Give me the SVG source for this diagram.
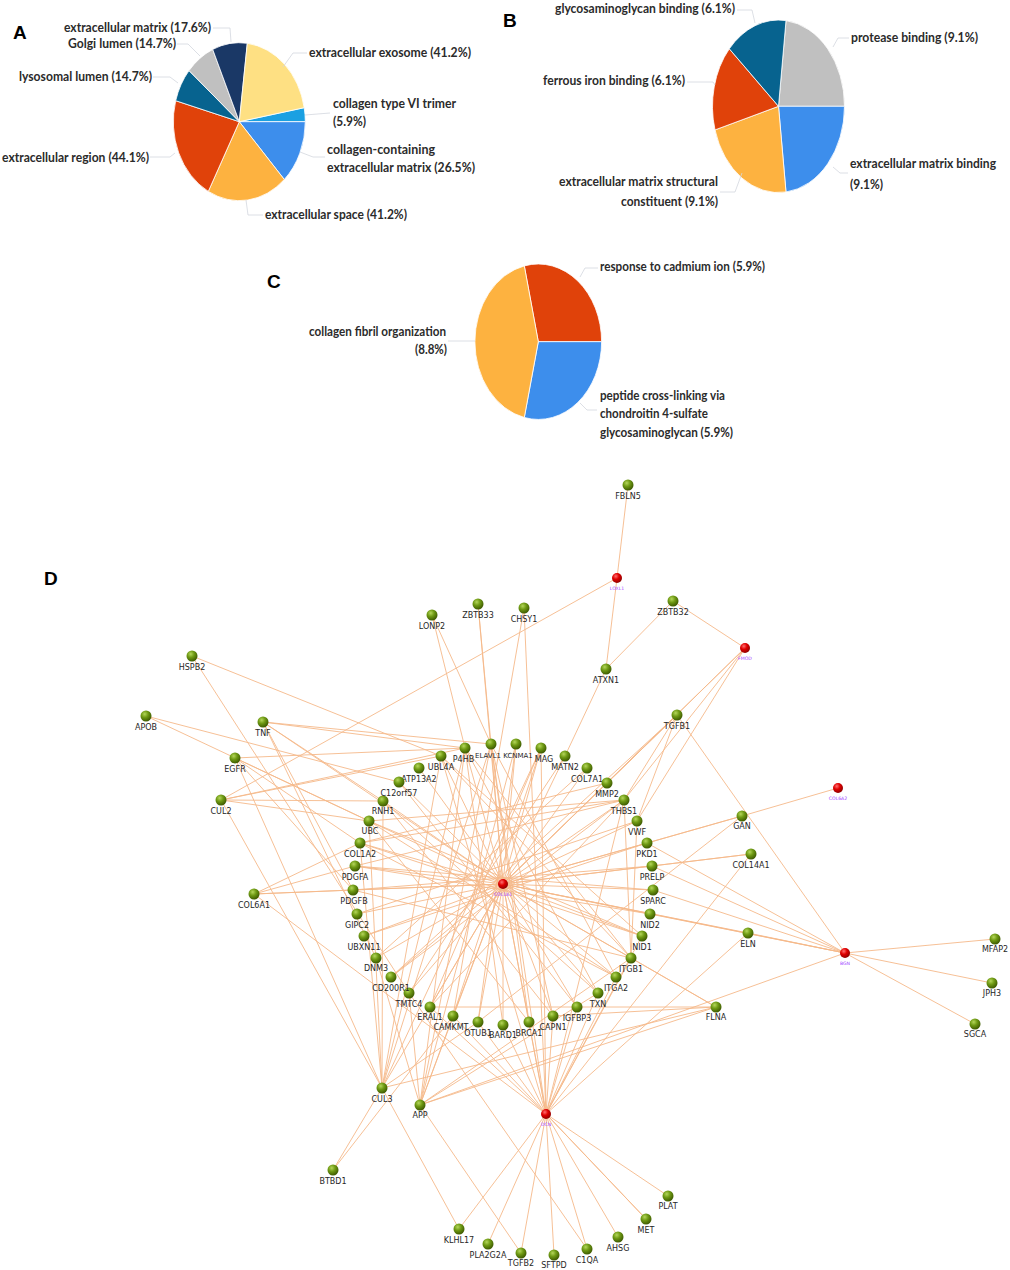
<svg xmlns="http://www.w3.org/2000/svg" width="1010" height="1270" viewBox="0 0 1010 1270">
<defs>
<radialGradient id="gg" cx="38%" cy="32%" r="70%">
<stop offset="0%" stop-color="#b4d65a"/>
<stop offset="45%" stop-color="#6f9a14"/>
<stop offset="100%" stop-color="#3c5800"/>
</radialGradient>
<radialGradient id="rg" cx="38%" cy="32%" r="70%">
<stop offset="0%" stop-color="#ff7070"/>
<stop offset="45%" stop-color="#e00000"/>
<stop offset="100%" stop-color="#8c0000"/>
</radialGradient>
<style>
.pl{font-family:Lato,"Open Sans","Liberation Sans",sans-serif;font-weight:700;font-size:13.5px;fill:#2b2b2b}
.pn{font-family:"Liberation Sans",Arial,sans-serif;font-weight:700;font-size:19px;fill:#000}
.ld{fill:none;stroke:#d3d7de;stroke-width:0.8}
.sl{stroke:#fff;stroke-width:0.8}
.g circle{fill:url(#gg)}
.r circle{fill:url(#rg)}
.g text{font-family:"DejaVu Sans",Verdana,sans-serif;font-size:8px;fill:#262626;text-anchor:middle}
.g text.s7{font-size:7px}
.r text{font-family:"DejaVu Sans",Verdana,sans-serif;font-size:4.6px;fill:#a040ff;text-anchor:middle}
#edges line{stroke:#f5b98a;stroke-width:0.9}
</style>
</defs>
<rect width="1010" height="1270" fill="#fff"/>

<!-- Panel A -->
<g id="pieA">
<path class="sl" fill="#1aa0e2" d="M239.3,121.7 L304.2,107.7 A66,79 0 0 1 305.3,121.7 Z"/>
<path class="sl" fill="#3d8eec" d="M239.3,121.7 L305.3,121.7 A66,79 0 0 1 284.3,179.5 Z"/>
<path class="sl" fill="#fdb240" d="M239.3,121.7 L284.3,179.5 A66,79 0 0 1 208.3,191.4 Z"/>
<path class="sl" fill="#e0420a" d="M239.3,121.7 L208.3,191.4 A66,79 0 0 1 175.7,100.7 Z"/>
<path class="sl" fill="#07638f" d="M239.3,121.7 L175.7,100.7 A66,79 0 0 1 189,70.6 Z"/>
<path class="sl" fill="#c0c0c0" d="M239.3,121.7 L189,70.6 A66,79 0 0 1 212.7,49.4 Z"/>
<path class="sl" fill="#1a3866" d="M239.3,121.7 L212.7,49.4 A66,79 0 0 1 247.3,43.3 Z"/>
<path class="sl" fill="#fee083" d="M239.3,121.7 L247.3,43.3 A66,79 0 0 1 304.2,107.7 Z"/>
</g>
<g id="leadersA">
<polyline class="ld" points="213,28 230,28 231,42"/>
<polyline class="ld" points="177,44 188,44 200,56"/>
<polyline class="ld" points="153,77 170,77 178,83"/>
<polyline class="ld" points="307,53 293,53 283,67"/>
<polyline class="ld" points="330,113 305,115"/>
<polyline class="ld" points="325,157 313,157 300,152"/>
<polyline class="ld" points="150,157 170,157 175,153"/>
<polyline class="ld" points="263,215 248,215 246,200"/>
</g>
<text class="pn" x="13" y="39">A</text>
<text class="pl" x="64" y="31.5" textLength="147" lengthAdjust="spacingAndGlyphs">extracellular matrix (17.6%)</text>
<text class="pl" x="68" y="48.3" textLength="108" lengthAdjust="spacingAndGlyphs">Golgi lumen (14.7%)</text>
<text class="pl" x="19" y="80.7" textLength="133" lengthAdjust="spacingAndGlyphs">lysosomal lumen (14.7%)</text>
<text class="pl" x="309" y="57.3" textLength="162" lengthAdjust="spacingAndGlyphs">extracellular exosome (41.2%)</text>
<text class="pl" x="333" y="108" textLength="123" lengthAdjust="spacingAndGlyphs">collagen type VI trimer</text>
<text class="pl" x="333" y="126" textLength="33" lengthAdjust="spacingAndGlyphs">(5.9%)</text>
<text class="pl" x="327" y="154" textLength="108" lengthAdjust="spacingAndGlyphs">collagen-containing</text>
<text class="pl" x="327" y="172.3" textLength="148" lengthAdjust="spacingAndGlyphs">extracellular matrix (26.5%)</text>
<text class="pl" x="2" y="162.3" textLength="147" lengthAdjust="spacingAndGlyphs">extracellular region (44.1%)</text>
<text class="pl" x="265" y="219" textLength="142" lengthAdjust="spacingAndGlyphs">extracellular space (41.2%)</text>

<!-- Panel B -->
<g id="pieB">
<path class="sl" fill="#c0c0c0" d="M778.5,106.3 L786,20.6 A66,86.3 0 0 1 844.5,106.3 Z"/>
<path class="sl" fill="#3d8eec" d="M778.5,106.3 L844.5,106.3 A66,86.3 0 0 1 786,192 Z"/>
<path class="sl" fill="#fdb240" d="M778.5,106.3 L786,192 A66,86.3 0 0 1 715,129.9 Z"/>
<path class="sl" fill="#e0420a" d="M778.5,106.3 L715,129.9 A66,86.3 0 0 1 729.3,48.8 Z"/>
<path class="sl" fill="#07638f" d="M778.5,106.3 L729.3,48.8 A66,86.3 0 0 1 786,20.6 Z"/>
</g>
<g id="leadersB">
<polyline class="ld" points="737,10 752,10 755,23"/>
<polyline class="ld" points="849,38 838,38 833,47"/>
<polyline class="ld" points="687,82 713,82 715,85"/>
<polyline class="ld" points="848,173 840,173 833,167"/>
<polyline class="ld" points="720,192 735,192 742,173"/>
</g>
<text class="pn" x="503" y="27">B</text>
<text class="pl" x="555" y="12.5" textLength="180" lengthAdjust="spacingAndGlyphs">glycosaminoglycan binding (6.1%)</text>
<text class="pl" x="851" y="41.7" textLength="127" lengthAdjust="spacingAndGlyphs">protease binding (9.1%)</text>
<text class="pl" x="543" y="85" textLength="142" lengthAdjust="spacingAndGlyphs">ferrous iron binding (6.1%)</text>
<text class="pl" transform="translate(850,167.7) scale(0.8,1)" x="0" y="0" textLength="182.5" lengthAdjust="spacingAndGlyphs">extracellular matrix binding</text>
<text class="pl" x="850" y="189" textLength="33" lengthAdjust="spacingAndGlyphs">(9.1%)</text>
<text class="pl" x="559" y="186" textLength="159" lengthAdjust="spacingAndGlyphs">extracellular matrix structural</text>
<text class="pl" x="621" y="205.7" textLength="97" lengthAdjust="spacingAndGlyphs">constituent (9.1%)</text>

<!-- Panel C -->
<g id="pieC">
<path class="sl" fill="#e0420a" d="M538.3,341.7 L524.3,265.9 A63.3,77.7 0 0 1 601.6,341.7 Z"/>
<path class="sl" fill="#3d8eec" d="M538.3,341.7 L601.6,341.7 A63.3,77.7 0 0 1 524.3,417.5 Z"/>
<path class="sl" fill="#fdb240" d="M538.3,341.7 L524.3,417.5 A63.3,77.7 0 0 1 524.3,265.9 Z"/>
</g>
<g id="leadersC">
<polyline class="ld" points="598,268 585,268 580,277"/>
<polyline class="ld" points="448,341 475,341"/>
<polyline class="ld" points="597,410 587,410 580,403"/>
</g>
<text class="pn" x="267" y="288">C</text>
<text class="pl" x="600" y="271" textLength="165" lengthAdjust="spacingAndGlyphs">response to cadmium ion (5.9%)</text>
<text class="pl" x="309" y="336" textLength="137" lengthAdjust="spacingAndGlyphs">collagen fibril organization</text>
<text class="pl" x="415" y="354.3" textLength="32" lengthAdjust="spacingAndGlyphs">(8.8%)</text>
<text class="pl" x="600" y="400" textLength="125" lengthAdjust="spacingAndGlyphs">peptide cross-linking via</text>
<text class="pl" x="600" y="418.3" textLength="108" lengthAdjust="spacingAndGlyphs">chondroitin 4-sulfate</text>
<text class="pl" x="600" y="436.7" textLength="133" lengthAdjust="spacingAndGlyphs">glycosaminoglycan (5.9%)</text>

<!-- Panel D -->
<text class="pn" x="44" y="585">D</text>
<g id="edges">
<line x1="628" y1="485" x2="617" y2="578"/>
<line x1="617" y1="578" x2="606" y2="669"/>
<line x1="617" y1="578" x2="221" y2="800"/>
<line x1="673" y1="601" x2="606" y2="669"/>
<line x1="673" y1="601" x2="745" y2="648"/>
<line x1="606" y1="669" x2="565" y2="756"/>
<line x1="745" y1="648" x2="607" y2="783"/>
<line x1="745" y1="648" x2="624" y2="800"/>
<line x1="745" y1="648" x2="637" y2="821"/>
<line x1="745" y1="648" x2="503" y2="884"/>
<line x1="432" y1="615" x2="465" y2="748"/>
<line x1="432" y1="615" x2="491" y2="744"/>
<line x1="478" y1="604" x2="491" y2="744"/>
<line x1="478" y1="604" x2="503" y2="884"/>
<line x1="524" y1="608" x2="453" y2="1016"/>
<line x1="524" y1="608" x2="546" y2="1114"/>
<line x1="192" y1="656" x2="441" y2="756"/>
<line x1="192" y1="656" x2="409" y2="993"/>
<line x1="146" y1="716" x2="399" y2="782"/>
<line x1="146" y1="716" x2="369" y2="821"/>
<line x1="263" y1="722" x2="491" y2="744"/>
<line x1="263" y1="722" x2="465" y2="748"/>
<line x1="263" y1="722" x2="383" y2="801"/>
<line x1="263" y1="722" x2="353" y2="890"/>
<line x1="263" y1="722" x2="376" y2="958"/>
<line x1="263" y1="722" x2="503" y2="884"/>
<line x1="235" y1="758" x2="465" y2="748"/>
<line x1="235" y1="758" x2="369" y2="821"/>
<line x1="235" y1="758" x2="353" y2="890"/>
<line x1="235" y1="758" x2="382" y2="1088"/>
<line x1="235" y1="758" x2="360" y2="843"/>
<line x1="221" y1="800" x2="441" y2="756"/>
<line x1="221" y1="800" x2="465" y2="748"/>
<line x1="221" y1="800" x2="369" y2="821"/>
<line x1="221" y1="800" x2="383" y2="801"/>
<line x1="221" y1="800" x2="382" y2="1088"/>
<line x1="254" y1="894" x2="355" y2="866"/>
<line x1="254" y1="894" x2="353" y2="890"/>
<line x1="254" y1="894" x2="503" y2="884"/>
<line x1="254" y1="894" x2="546" y2="1114"/>
<line x1="254" y1="894" x2="360" y2="843"/>
<line x1="503" y1="884" x2="465" y2="748"/>
<line x1="503" y1="884" x2="491" y2="744"/>
<line x1="503" y1="884" x2="516" y2="744"/>
<line x1="503" y1="884" x2="541" y2="748"/>
<line x1="503" y1="884" x2="565" y2="756"/>
<line x1="503" y1="884" x2="587" y2="768"/>
<line x1="503" y1="884" x2="607" y2="783"/>
<line x1="503" y1="884" x2="624" y2="800"/>
<line x1="503" y1="884" x2="637" y2="821"/>
<line x1="503" y1="884" x2="647" y2="843"/>
<line x1="503" y1="884" x2="652" y2="866"/>
<line x1="503" y1="884" x2="653" y2="890"/>
<line x1="503" y1="884" x2="650" y2="914"/>
<line x1="503" y1="884" x2="642" y2="936"/>
<line x1="503" y1="884" x2="631" y2="958"/>
<line x1="503" y1="884" x2="616" y2="977"/>
<line x1="503" y1="884" x2="598" y2="993"/>
<line x1="503" y1="884" x2="577" y2="1007"/>
<line x1="503" y1="884" x2="553" y2="1016"/>
<line x1="503" y1="884" x2="529" y2="1022"/>
<line x1="503" y1="884" x2="503" y2="1025"/>
<line x1="503" y1="884" x2="478" y2="1022"/>
<line x1="503" y1="884" x2="453" y2="1016"/>
<line x1="503" y1="884" x2="430" y2="1007"/>
<line x1="503" y1="884" x2="409" y2="993"/>
<line x1="503" y1="884" x2="391" y2="977"/>
<line x1="503" y1="884" x2="376" y2="958"/>
<line x1="503" y1="884" x2="364" y2="936"/>
<line x1="503" y1="884" x2="357" y2="914"/>
<line x1="503" y1="884" x2="353" y2="890"/>
<line x1="503" y1="884" x2="355" y2="866"/>
<line x1="503" y1="884" x2="360" y2="843"/>
<line x1="503" y1="884" x2="369" y2="821"/>
<line x1="503" y1="884" x2="383" y2="801"/>
<line x1="503" y1="884" x2="399" y2="782"/>
<line x1="503" y1="884" x2="419" y2="768"/>
<line x1="503" y1="884" x2="441" y2="756"/>
<line x1="503" y1="884" x2="677" y2="715"/>
<line x1="503" y1="884" x2="546" y2="1114"/>
<line x1="503" y1="884" x2="845" y2="953"/>
<line x1="503" y1="884" x2="420" y2="1105"/>
<line x1="503" y1="884" x2="382" y2="1088"/>
<line x1="503" y1="884" x2="716" y2="1007"/>
<line x1="503" y1="884" x2="748" y2="933"/>
<line x1="503" y1="884" x2="751" y2="854"/>
<line x1="503" y1="884" x2="742" y2="816"/>
<line x1="546" y1="1114" x2="459" y2="1229"/>
<line x1="546" y1="1114" x2="488" y2="1244"/>
<line x1="546" y1="1114" x2="521" y2="1253"/>
<line x1="546" y1="1114" x2="554" y2="1255"/>
<line x1="546" y1="1114" x2="587" y2="1249"/>
<line x1="546" y1="1114" x2="618" y2="1237"/>
<line x1="546" y1="1114" x2="646" y2="1219"/>
<line x1="546" y1="1114" x2="668" y2="1196"/>
<line x1="546" y1="1114" x2="478" y2="1022"/>
<line x1="546" y1="1114" x2="503" y2="1025"/>
<line x1="546" y1="1114" x2="529" y2="1022"/>
<line x1="546" y1="1114" x2="553" y2="1016"/>
<line x1="546" y1="1114" x2="577" y2="1007"/>
<line x1="546" y1="1114" x2="598" y2="993"/>
<line x1="546" y1="1114" x2="616" y2="977"/>
<line x1="546" y1="1114" x2="631" y2="958"/>
<line x1="546" y1="1114" x2="748" y2="933"/>
<line x1="546" y1="1114" x2="751" y2="854"/>
<line x1="546" y1="1114" x2="430" y2="1007"/>
<line x1="546" y1="1114" x2="541" y2="748"/>
<line x1="546" y1="1114" x2="491" y2="744"/>
<line x1="546" y1="1114" x2="441" y2="756"/>
<line x1="546" y1="1114" x2="624" y2="800"/>
<line x1="546" y1="1114" x2="642" y2="936"/>
<line x1="845" y1="953" x2="995" y2="939"/>
<line x1="845" y1="953" x2="992" y2="983"/>
<line x1="845" y1="953" x2="975" y2="1024"/>
<line x1="845" y1="953" x2="677" y2="715"/>
<line x1="845" y1="953" x2="748" y2="933"/>
<line x1="845" y1="953" x2="650" y2="914"/>
<line x1="845" y1="953" x2="653" y2="890"/>
<line x1="845" y1="953" x2="652" y2="866"/>
<line x1="845" y1="953" x2="647" y2="843"/>
<line x1="845" y1="953" x2="420" y2="1105"/>
<line x1="677" y1="715" x2="624" y2="800"/>
<line x1="677" y1="715" x2="607" y2="783"/>
<line x1="677" y1="715" x2="637" y2="821"/>
<line x1="677" y1="715" x2="391" y2="977"/>
<line x1="838" y1="788" x2="742" y2="816"/>
<line x1="742" y1="816" x2="647" y2="843"/>
<line x1="742" y1="816" x2="478" y2="1022"/>
<line x1="751" y1="854" x2="652" y2="866"/>
<line x1="716" y1="1007" x2="631" y2="958"/>
<line x1="716" y1="1007" x2="553" y2="1016"/>
<line x1="716" y1="1007" x2="382" y2="1088"/>
<line x1="716" y1="1007" x2="420" y2="1105"/>
<line x1="716" y1="1007" x2="430" y2="1007"/>
<line x1="382" y1="1088" x2="333" y2="1170"/>
<line x1="382" y1="1088" x2="459" y2="1229"/>
<line x1="382" y1="1088" x2="369" y2="821"/>
<line x1="382" y1="1088" x2="360" y2="843"/>
<line x1="382" y1="1088" x2="383" y2="801"/>
<line x1="382" y1="1088" x2="441" y2="756"/>
<line x1="382" y1="1088" x2="491" y2="744"/>
<line x1="382" y1="1088" x2="478" y2="1022"/>
<line x1="382" y1="1088" x2="465" y2="748"/>
<line x1="382" y1="1088" x2="541" y2="748"/>
<line x1="420" y1="1105" x2="521" y2="1253"/>
<line x1="420" y1="1105" x2="453" y2="1016"/>
<line x1="420" y1="1105" x2="409" y2="993"/>
<line x1="420" y1="1105" x2="376" y2="958"/>
<line x1="420" y1="1105" x2="491" y2="744"/>
<line x1="420" y1="1105" x2="465" y2="748"/>
<line x1="420" y1="1105" x2="516" y2="744"/>
<line x1="420" y1="1105" x2="631" y2="958"/>
<line x1="420" y1="1105" x2="598" y2="993"/>
<line x1="333" y1="1170" x2="453" y2="1016"/>
<line x1="587" y1="1249" x2="409" y2="993"/>
<line x1="453" y1="1016" x2="646" y2="1219"/>
<line x1="465" y1="748" x2="631" y2="958"/>
<line x1="465" y1="748" x2="598" y2="993"/>
<line x1="491" y1="744" x2="529" y2="1022"/>
<line x1="491" y1="744" x2="616" y2="977"/>
<line x1="491" y1="744" x2="553" y2="1016"/>
<line x1="516" y1="744" x2="478" y2="1022"/>
<line x1="541" y1="748" x2="453" y2="1016"/>
<line x1="541" y1="748" x2="430" y2="1007"/>
<line x1="441" y1="756" x2="631" y2="958"/>
<line x1="441" y1="756" x2="642" y2="936"/>
<line x1="369" y1="821" x2="642" y2="936"/>
<line x1="369" y1="821" x2="624" y2="800"/>
<line x1="369" y1="821" x2="616" y2="977"/>
<line x1="383" y1="801" x2="598" y2="993"/>
<line x1="360" y1="843" x2="616" y2="977"/>
<line x1="360" y1="843" x2="607" y2="783"/>
<line x1="360" y1="843" x2="624" y2="800"/>
<line x1="353" y1="890" x2="631" y2="958"/>
<line x1="353" y1="890" x2="652" y2="866"/>
<line x1="355" y1="866" x2="624" y2="800"/>
<line x1="355" y1="866" x2="653" y2="890"/>
<line x1="624" y1="800" x2="391" y2="977"/>
<line x1="624" y1="800" x2="430" y2="1007"/>
<line x1="587" y1="768" x2="376" y2="958"/>
<line x1="565" y1="756" x2="409" y2="993"/>
<line x1="637" y1="821" x2="357" y2="914"/>
<line x1="647" y1="843" x2="364" y2="936"/>
<line x1="650" y1="914" x2="355" y2="866"/>
<line x1="642" y1="936" x2="360" y2="843"/>
<line x1="577" y1="1007" x2="399" y2="782"/>
<line x1="553" y1="1016" x2="383" y2="801"/>
<line x1="529" y1="1022" x2="369" y2="821"/>
<line x1="503" y1="1025" x2="465" y2="748"/>
<line x1="631" y1="958" x2="624" y2="800"/>
<line x1="631" y1="958" x2="637" y2="821"/>
</g>

<g id="nodes">
<g id="n-FBLN5" class="g"><circle cx="628" cy="485" r="5.5"/><text x="628" y="499">FBLN5</text></g>
<g id="n-LOXL1" class="r"><circle cx="617" cy="578" r="5"/><text x="617" y="589.5">LOXL1</text></g>
<g id="n-ZBTB32" class="g"><circle cx="673" cy="601" r="5.5"/><text x="673" y="615">ZBTB32</text></g>
<g id="n-FMOD" class="r"><circle cx="745" cy="648" r="5"/><text x="745" y="659.5">FMOD</text></g>
<g id="n-LONP2" class="g"><circle cx="432" cy="615" r="5.5"/><text x="432" y="629">LONP2</text></g>
<g id="n-ZBTB33" class="g"><circle cx="478" cy="604" r="5.5"/><text x="478" y="618">ZBTB33</text></g>
<g id="n-CHSY1" class="g"><circle cx="524" cy="608" r="5.5"/><text x="524" y="622">CHSY1</text></g>
<g id="n-ATXN1" class="g"><circle cx="606" cy="669" r="5.5"/><text x="606" y="683">ATXN1</text></g>
<g id="n-HSPB2" class="g"><circle cx="192" cy="656" r="5.5"/><text x="192" y="670">HSPB2</text></g>
<g id="n-APOB" class="g"><circle cx="146" cy="716" r="5.5"/><text x="146" y="730">APOB</text></g>
<g id="n-TNF" class="g"><circle cx="263" cy="722" r="5.5"/><text x="263" y="736">TNF</text></g>
<g id="n-EGFR" class="g"><circle cx="235" cy="758" r="5.5"/><text x="235" y="772">EGFR</text></g>
<g id="n-CUL2" class="g"><circle cx="221" cy="800" r="5.5"/><text x="221" y="814">CUL2</text></g>
<g id="n-UBL4A" class="g"><circle cx="441" cy="756" r="5.5"/><text x="441" y="770">UBL4A</text></g>
<g id="n-ATP13A2" class="g"><circle cx="419" cy="768" r="5.5"/><text x="419" y="782">ATP13A2</text></g>
<g id="n-P4HB" class="g"><circle cx="465" cy="748" r="5.5"/><text x="463.5" y="762">P4HB</text></g>
<g id="n-ELAVL1" class="g"><circle cx="491" cy="744" r="5.5"/><text class="s7" x="488" y="758">ELAVL1</text></g>
<g id="n-KCNMA1" class="g"><circle cx="516" cy="744" r="5.5"/><text class="s7" x="518" y="758">KCNMA1</text></g>
<g id="n-MAG" class="g"><circle cx="541" cy="748" r="5.5"/><text x="544" y="762">MAG</text></g>
<g id="n-MATN2" class="g"><circle cx="565" cy="756" r="5.5"/><text x="565" y="770">MATN2</text></g>
<g id="n-COL7A1" class="g"><circle cx="587" cy="768" r="5.5"/><text x="587" y="782">COL7A1</text></g>
<g id="n-MMP2" class="g"><circle cx="607" cy="783" r="5.5"/><text x="607" y="797">MMP2</text></g>
<g id="n-THBS1" class="g"><circle cx="624" cy="800" r="5.5"/><text x="624" y="814">THBS1</text></g>
<g id="n-VWF" class="g"><circle cx="637" cy="821" r="5.5"/><text x="637" y="835">VWF</text></g>
<g id="n-PKD1" class="g"><circle cx="647" cy="843" r="5.5"/><text x="647" y="857">PKD1</text></g>
<g id="n-PRELP" class="g"><circle cx="652" cy="866" r="5.5"/><text x="652" y="880">PRELP</text></g>
<g id="n-SPARC" class="g"><circle cx="653" cy="890" r="5.5"/><text x="653" y="904">SPARC</text></g>
<g id="n-NID2" class="g"><circle cx="650" cy="914" r="5.5"/><text x="650" y="928">NID2</text></g>
<g id="n-NID1" class="g"><circle cx="642" cy="936" r="5.5"/><text x="642" y="950">NID1</text></g>
<g id="n-ITGB1" class="g"><circle cx="631" cy="958" r="5.5"/><text x="631" y="972">ITGB1</text></g>
<g id="n-ITGA2" class="g"><circle cx="616" cy="977" r="5.5"/><text x="616" y="991">ITGA2</text></g>
<g id="n-TXN" class="g"><circle cx="598" cy="993" r="5.5"/><text x="598" y="1007">TXN</text></g>
<g id="n-IGFBP3" class="g"><circle cx="577" cy="1007" r="5.5"/><text x="577" y="1021">IGFBP3</text></g>
<g id="n-CAPN1" class="g"><circle cx="553" cy="1016" r="5.5"/><text x="553" y="1030">CAPN1</text></g>
<g id="n-BRCA1" class="g"><circle cx="529" cy="1022" r="5.5"/><text x="529" y="1036">BRCA1</text></g>
<g id="n-BARD1" class="g"><circle cx="503" cy="1025" r="5.5"/><text x="503" y="1038">BARD1</text></g>
<g id="n-OTUB1" class="g"><circle cx="478" cy="1022" r="5.5"/><text x="478" y="1036">OTUB1</text></g>
<g id="n-CAMKMT" class="g"><circle cx="453" cy="1016" r="5.5"/><text x="451" y="1030">CAMKMT</text></g>
<g id="n-ERAL1" class="g"><circle cx="430" cy="1007" r="5.5"/><text x="430" y="1020">ERAL1</text></g>
<g id="n-TMTC4" class="g"><circle cx="409" cy="993" r="5.5"/><text x="409" y="1007">TMTC4</text></g>
<g id="n-CD200R1" class="g"><circle cx="391" cy="977" r="5.5"/><text x="391" y="991">CD200R1</text></g>
<g id="n-DNM3" class="g"><circle cx="376" cy="958" r="5.5"/><text x="376" y="971">DNM3</text></g>
<g id="n-UBXN11" class="g"><circle cx="364" cy="936" r="5.5"/><text x="364" y="950">UBXN11</text></g>
<g id="n-GIPC2" class="g"><circle cx="357" cy="914" r="5.5"/><text x="357" y="928">GIPC2</text></g>
<g id="n-PDGFB" class="g"><circle cx="353" cy="890" r="5.5"/><text x="354" y="904">PDGFB</text></g>
<g id="n-PDGFA" class="g"><circle cx="355" cy="866" r="5.5"/><text x="355" y="880">PDGFA</text></g>
<g id="n-COL1A2" class="g"><circle cx="360" cy="843" r="5.5"/><text x="360" y="857">COL1A2</text></g>
<g id="n-UBC" class="g"><circle cx="369" cy="821" r="5.5"/><text x="370" y="834">UBC</text></g>
<g id="n-RNH1" class="g"><circle cx="383" cy="801" r="5.5"/><text x="383" y="814">RNH1</text></g>
<g id="n-C12orf57" class="g"><circle cx="399" cy="782" r="5.5"/><text x="399" y="796">C12orf57</text></g>
<g id="n-COL1A1" class="r"><circle cx="503" cy="884" r="5"/><text x="503" y="895.5">COL1A1</text></g>
<g id="n-TGFB1" class="g"><circle cx="677" cy="715" r="5.5"/><text x="677" y="729">TGFB1</text></g>
<g id="n-COL6A2" class="r"><circle cx="838" cy="788" r="5"/><text x="838" y="799.5">COL6A2</text></g>
<g id="n-GAN" class="g"><circle cx="742" cy="816" r="5.5"/><text x="742" y="829">GAN</text></g>
<g id="n-COL14A1" class="g"><circle cx="751" cy="854" r="5.5"/><text x="751" y="868">COL14A1</text></g>
<g id="n-ELN" class="g"><circle cx="748" cy="933" r="5.5"/><text x="748" y="947">ELN</text></g>
<g id="n-BGN" class="r"><circle cx="845" cy="953" r="5"/><text x="845" y="964.5">BGN</text></g>
<g id="n-MFAP2" class="g"><circle cx="995" cy="939" r="5.5"/><text x="995" y="952">MFAP2</text></g>
<g id="n-JPH3" class="g"><circle cx="992" cy="983" r="5.5"/><text x="992" y="996">JPH3</text></g>
<g id="n-SGCA" class="g"><circle cx="975" cy="1024" r="5.5"/><text x="975" y="1037">SGCA</text></g>
<g id="n-COL6A1" class="g"><circle cx="254" cy="894" r="5.5"/><text x="254" y="908">COL6A1</text></g>
<g id="n-FLNA" class="g"><circle cx="716" cy="1007" r="5.5"/><text x="716" y="1020">FLNA</text></g>
<g id="n-CUL3" class="g"><circle cx="382" cy="1088" r="5.5"/><text x="382" y="1102">CUL3</text></g>
<g id="n-APP" class="g"><circle cx="420" cy="1105" r="5.5"/><text x="420" y="1118">APP</text></g>
<g id="n-DCN" class="r"><circle cx="546" cy="1114" r="5"/><text x="546" y="1125.5">DCN</text></g>
<g id="n-BTBD1" class="g"><circle cx="333" cy="1170" r="5.5"/><text x="333" y="1184">BTBD1</text></g>
<g id="n-KLHL17" class="g"><circle cx="459" cy="1229" r="5.5"/><text x="459" y="1243">KLHL17</text></g>
<g id="n-PLA2G2A" class="g"><circle cx="488" cy="1244" r="5.5"/><text x="488" y="1258">PLA2G2A</text></g>
<g id="n-TGFB2" class="g"><circle cx="521" cy="1253" r="5.5"/><text x="521" y="1266">TGFB2</text></g>
<g id="n-SFTPD" class="g"><circle cx="554" cy="1255" r="5.5"/><text x="554" y="1268">SFTPD</text></g>
<g id="n-C1QA" class="g"><circle cx="587" cy="1249" r="5.5"/><text x="587" y="1263">C1QA</text></g>
<g id="n-AHSG" class="g"><circle cx="618" cy="1237" r="5.5"/><text x="618" y="1251">AHSG</text></g>
<g id="n-MET" class="g"><circle cx="646" cy="1219" r="5.5"/><text x="646" y="1233">MET</text></g>
<g id="n-PLAT" class="g"><circle cx="668" cy="1196" r="5.5"/><text x="668" y="1209">PLAT</text></g>
</g>
</svg>
